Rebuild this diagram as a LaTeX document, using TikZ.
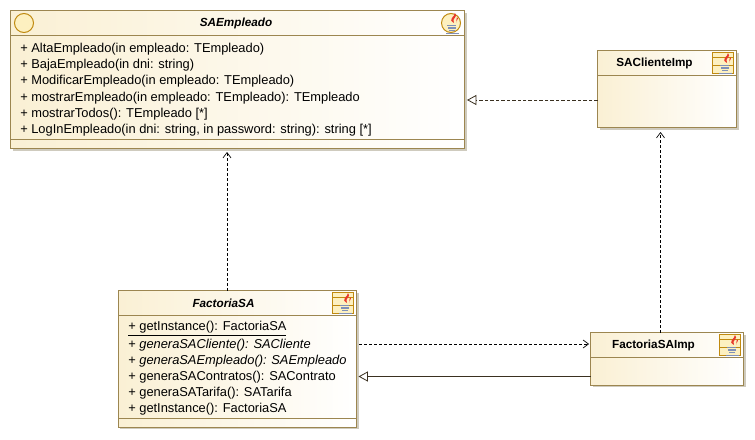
\documentclass[tikz,border=0pt]{standalone}
\usepackage{fontspec}
\setmainfont{Liberation Sans}
\usetikzlibrary{arrows.meta}
\definecolor{umlborder}{HTML}{9C8650}
\definecolor{umlcream}{HTML}{FAF0D4}
\definecolor{umlshadow}{HTML}{CFCBBE}
\definecolor{iconedge}{HTML}{C08A10}
\definecolor{iconfill}{HTML}{FDF0C0}
\definecolor{flame}{HTML}{E8382C}
\definecolor{cupblue}{HTML}{8090B8}
\definecolor{linkdark}{HTML}{3A3020}
\tikzset{
  x=0.75pt,y=-0.75pt,
  umlbox/.style={draw=umlborder,line width=0.75pt,left color=umlcream,right color=white,
    shading angle=90,anchor=north west,inner sep=0pt,outer sep=0pt},
  umlshade/.style={fill=umlshadow,draw=none},
  sepline/.style={draw=umlborder,line width=0.75pt},
  opname/.style={anchor=west,inner sep=0pt,font=\fontsize{9.65pt}{11pt}\selectfont},
  title/.style={inner sep=0pt,font=\fontsize{8.8pt}{10pt}\selectfont\bfseries},
  dep/.style={dashed,dash pattern=on 2.25pt off 1.5pt,line width=0.75pt,color=black,-{Straight Barb[length=4pt,width=6pt,line width=0.5pt]}},
  real/.style={dashed,dash pattern=on 2.6pt off 1.5pt,line width=0.75pt,color=linkdark,-{Triangle[open,fill=white,length=7pt,width=7.5pt,line width=0.6pt]}},
  gener/.style={line width=0.75pt,color=linkdark,-{Triangle[open,fill=white,length=7pt,width=7.5pt,line width=0.6pt]}}
}
% java cup at centre (#1,#2)
\newcommand{\javacup}[2]{%
  \fill[flame] (#1+2,#2-10) .. controls (#1+6,#2-6) and (#1-2,#2-5) .. (#1+1,#2+0)
     .. controls (#1-6,#2-4) and (#1+2,#2-6) .. (#1+2,#2-10);
  \fill[flame] (#1+4,#2-6) .. controls (#1+7,#2-4) and (#1+2,#2-2) .. (#1+3,#2)
     .. controls (#1+2,#2-3) and (#1+5,#2-4) .. (#1+4,#2-6);
  \draw[cupblue,line width=1.1pt] (#1-6,#2+2.5) -- (#1+3,#2+2.5);
  \draw[cupblue,line width=1.1pt] (#1-5,#2+5) -- (#1+3,#2+5);
  \draw[cupblue,line width=1.1pt] (#1-4,#2+7.5) -- (#1+2,#2+7.5);
  \draw[cupblue,line width=0.7pt] (#1-7,#2+10) -- (#1+6,#2+10);
}
\newcommand{\classicon}[2]{%
  \fill[iconfill] (#1-10.5,#2-10.5) rectangle (#1+10.5,#2+10.5);
  \draw[iconedge,line width=0.75pt] (#1-10.5,#2-10.5) rectangle (#1+10.5,#2+10.5);
  \draw[iconedge,line width=0.75pt] (#1-10.5,#2-6) -- (#1+10.5,#2-6);
  \draw[iconedge,line width=0.75pt] (#1-10.5,#2+2) -- (#1+10.5,#2+2);
  \javacup{#1+3}{#2}%
}
\begin{document}
\begin{tikzpicture}
\useasboundingbox (0,0) rectangle (755,439);
\fill[white] (0,0) rectangle (755,439);

% shadows
\fill[umlshade] (12.5,12.5) rectangle (466.5,150.5);
\fill[umlshade] (599.5,52.5) rectangle (738.5,130);
\fill[umlshade] (120,292.5) rectangle (358.5,429);
\fill[umlshade] (592.5,334.5) rectangle (745.5,387);

% boxes
\node[umlbox,minimum width=340.5pt,minimum height=103.5pt] (emp) at (10.5,10.5) {};
\node[umlbox,minimum width=104.25pt,minimum height=58.1pt] (cli) at (597.5,50.5) {};
\node[umlbox,minimum width=178.9pt,minimum height=102.4pt] (fac) at (118,290.5) {};
\node[umlbox,minimum width=114.75pt,minimum height=39.4pt] (imp) at (590.5,332.5) {};

% compartment lines
\draw[sepline] (10.5,35.5) -- (464.5,35.5);
\draw[sepline] (10.5,139.5) -- (464.5,139.5);
\draw[sepline] (597.5,75.5) -- (736.5,75.5);
\draw[sepline] (118,315.5) -- (356.5,315.5);
\draw[sepline] (118,418.5) -- (356.5,418.5);
\draw[sepline] (590.5,357.5) -- (743.5,357.5);

% titles
\node[title] (tEmp) at (236,23) {\itshape SAEmpleado};
\node[title] (tCli) at (654.5,63) {SAClienteImp};
\node[title] (tFac) at (223.5,303.5) {\itshape FactoriaSA};
\node[title] (tImp) at (653.5,345) {FactoriaSAImp};

% SAEmpleado operations
\node[opname] (e1) at (20,49.2) {+ AltaEmpleado(in empleado: TEmpleado)};
\node[opname] (e2) at (20,65.2) {+ BajaEmpleado(in dni: string)};
\node[opname] (e3) at (20,81.2) {+ ModificarEmpleado(in empleado: TEmpleado)};
\node[opname] (e4) at (20,97.7) {+ mostrarEmpleado(in empleado: TEmpleado): TEmpleado};
\node[opname] (e5) at (20,113.7) {+ mostrarTodos(): TEmpleado [*]};
\node[opname] (e6) at (20,129.7) {+ LogInEmpleado(in dni: string, in password: string): string [*]};

% FactoriaSA operations
\node[opname] (f1) at (128,328.7) {\underline{+ getInstance(): FactoriaSA}};
\node[opname] (f2) at (128,344.7) {+ \textit{generaSACliente(): SACliente}};
\node[opname] (f3) at (128,360.7) {+ \textit{generaSAEmpleado(): SAEmpleado}};
\node[opname] (f4) at (128,376.7) {+ generaSAContratos(): SAContrato};
\node[opname] (f5) at (128,392.7) {+ generaSATarifa(): SATarifa};
\node[opname] (f6) at (128,408.7) {+ getInstance(): FactoriaSA};

% icons
\draw[iconedge,fill=iconfill,line width=0.75pt] (24,23) circle (9.5);
\draw[iconedge,fill=iconfill,line width=0.75pt] (451,23) circle (9.5);
\javacup{453}{23}
\classicon{723}{63}
\classicon{343}{303}
\classicon{730}{345}

% connector ends
\coordinate (depA) at (227,290.5);
\coordinate (depAend) at (227,152);
\coordinate (depB) at (660.5,332.5);
\coordinate (depBend) at (660.5,132);
\coordinate (depC) at (359,344);
\coordinate (depCend) at (589,344);
\coordinate (realS) at (597.5,100);
\coordinate (realE) at (467,100);
\coordinate (genS) at (590.5,376.5);
\coordinate (genE) at (358.5,376.5);

% connectors
\draw[dep] (depA) -- (depAend);
\draw[dep] (depB) -- (depBend);
\draw[dep] (depC) -- (depCend);
\draw[real] (realS) -- (realE);
\draw[gener] (genS) -- (genE);
\end{tikzpicture}
\end{document}
